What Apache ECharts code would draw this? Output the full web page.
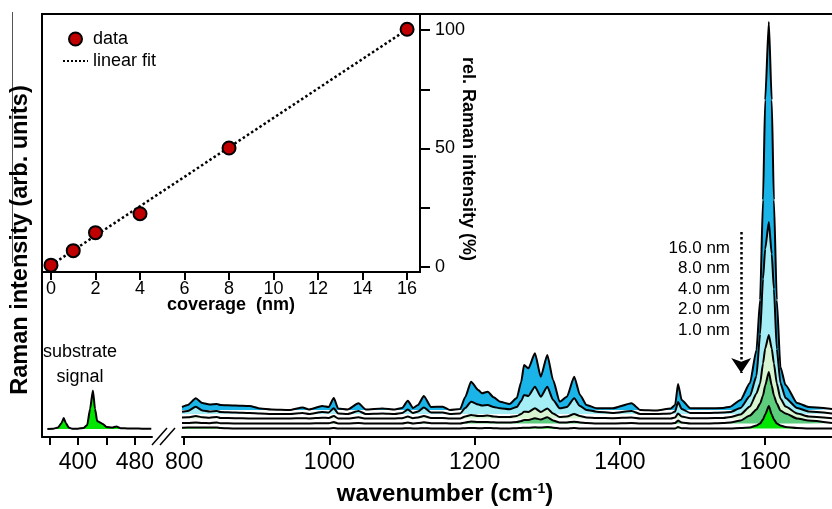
<!DOCTYPE html>
<html>
<head>
<meta charset="utf-8">
<script src="https://cdn.jsdelivr.net/npm/echarts@6/dist/echarts.min.js"></script>
<style>
  html, body { margin: 0; padding: 0; background: #fff; }
  #chart { width: 832px; height: 509px; }
</style>
</head>
<body>
<div id="chart"></div>
<script>
// inset: coverage vs. relative Raman intensity
const coverage = [0, 1, 2, 4, 8, 16];
const relIntensity = [0.8, 6.9, 14.5, 22.5, 50.2, 100.3];
const fitLine = [[0, 0.8], [16, 100.2]];
const insetTicks = [0, 2, 4, 6, 8, 10, 12, 14, 16];

// main spectra (intensity above each spectrum's own offset, arb. units)
const thicknessLabels = ['16.0 nm', '8.0 nm', '4.0 nm', '2.0 nm', '1.0 nm'];
const spectrumOffsets = [27, 23, 18.5, 13.5, 8.5];
const wavenumbers = [797, 805, 816, 825, 835, 845, 850, 870, 890, 905,
  920, 945, 963, 972, 990, 999, 1006, 1012, 1025, 1040,
  1050, 1073, 1090, 1100, 1108, 1115, 1122, 1130, 1140, 1156,
  1166, 1180, 1187, 1195, 1205, 1210, 1218, 1226, 1235, 1248,
  1258, 1264, 1268, 1274, 1283, 1291, 1300, 1308, 1317, 1327,
  1337, 1345, 1354, 1368, 1390, 1416, 1428, 1450, 1470, 1476,
  1480, 1485, 1497, 1520, 1542, 1552, 1566, 1579, 1588, 1593,
  1597, 1600, 1605, 1609, 1612, 1616, 1621, 1628, 1644, 1660, 1692];
const int16 = [3, 5, 11.7, 7, 5.5, 6, 5, 4.5, 4, 1.5,
  0.5, 0, 2.5, 0.5, 4, 3, 12, 1.5, 0.5, 6.7,
  0.5, 1.5, 0.5, 2, 9.3, 2, 5, 14, 3, 3.3,
  0, 1, 13, 28.3, 20, 16.7, 18.3, 12.7, 8.3, 6,
  12, 28, 45, 41.7, 56.7, 33.3, 55, 30, 8.3, 13.3,
  33.3, 15, 5, 1.7, 1.7, 6.7, 0, -0.5, 1.5, 5,
  26, 10, 1.7, 1.7, 2, 3.3, 10, 27, 60, 110,
  210, 310, 388, 310, 210, 110, 43, 25, 7, 3, 1];
const int8 = [2.3, 3, 7.3, 3.5, 2.5, 3, 2, 1.5, 1, 0.5,
  0, 0, 1, 0, 2, 1.5, 5.7, 0.5, 0, 3,
  0, 0.5, 0, 1, 4.5, 1, 2.5, 6.5, 1.5, 1.5,
  0, 0.5, 6, 12.3, 9.5, 8.5, 9, 7, 5.7, 4.7,
  7, 13, 19, 18, 27.3, 17.3, 27.3, 14, 5.7, 7,
  15.7, 8, 4, 2.3, 1, 3, 0, 0, 0.5, 2.5,
  12, 5, 1, 1, 1.5, 2, 6, 18, 38, 80,
  135, 165, 192, 160, 125, 65, 31, 16, 6, 2.5, 0.5];
const int4 = [1, 1.2, 2.5, 1.2, 0.8, 1.5, 0.5, 0.3, 0, 0,
  0, 0, 0.3, 0, 0.8, 0.5, 2.5, 0, 0, 1.2,
  0, 0, 0, 0.3, 2, 0.3, 1, 2.5, 0.5, 0.5,
  0, 0, 2, 3.5, 2.5, 2.5, 3, 2, 1.5, 1.5,
  2.5, 4.5, 6.8, 6.5, 10.2, 6.5, 10, 5, 1.5, 2,
  4.5, 2.5, 1, 0.5, 0.3, 1, 0, 0, 0, 1,
  5, 2, 0.3, 0.3, 0.5, 1.5, 4, 12, 25, 35,
  55, 70, 83.5, 70, 55, 35, 20, 12, 5, 2, 0.3];
const int2 = [0.5, 0.5, 1, 0.5, 0.3, 1, 0.3, 0, 0, 0,
  0, 0, 0, 0, 0.3, 0.3, 1.5, 0, 0, 0.5,
  0, 0, 0, 0, 1, 0, 0.5, 1.2, 0.3, 0.3,
  0, 0, 1, 2, 1.5, 1.5, 1.5, 1.2, 1, 1,
  1.5, 2.5, 3.5, 3.5, 5.2, 4, 6.2, 3, 1, 1,
  1.8, 1, 0.5, 0, 0, 0.5, 0, 0, 0, 0.5,
  3, 1, 0, 0, 0.5, 1, 3, 8, 14, 20,
  28, 38, 51.5, 38, 28, 20, 13, 10, 5, 3, 0.5];
const int1 = [0.8, 1, 1, 1, 1, 1, 0.5, 0, 0, 0,
  0, 0, 0, 0, 0, 0, 0.5, 0, 0, 0,
  0, 0, 0, 0, 0.3, 0, 0, 0.3, 0, 0,
  0, 0, 0.3, 0.5, 0.3, 0.3, 0.5, 0.3, 0, 0,
  0.3, 0.5, 0.8, 0.8, 1.2, 1, 1.5, 0.8, 0, 0,
  0.5, 0, 0, 0, 0, 0, 0, 0, 0, 0,
  1.5, 0.3, 0, 0, 0, 0, 0.5, 1, 3, 5,
  9, 14, 22.5, 14, 9, 5, 3, 1.5, 0.5, 0, 0];
const spectra = [int16, int8, int4, int2, int1];
const spectrumColors = ['#1ab4e8', '#a5eef5', '#d6f5d0', '#5dcc7d', '#00e600'];

// substrate signal (left segment of the broken axis)
const substrateWavenumbers = [357, 365, 372, 377, 380, 383, 387, 392, 400, 408,
  413, 417, 421, 424, 427, 431, 435, 440, 448, 454, 460, 470, 480, 490, 503];
const substrateIntensity = [0, 0.3, 1.5, 6, 11, 6, 1.5, 0.3, 0.3, 1,
  4, 20, 38.6, 20, 8, 6.6, 5, 2, 1.5, 2.6, 0.8, 0.5, 0.5, 0.3, 0.3];
const substrateOffset = 8;

const leftTicks = [360, 400, 440, 480];
const leftLabels = [400, 480];
const mainTicks = [800, 1000, 1200, 1400, 1600];

const FONT = 'Liberation Sans, Arial, sans-serif';
const blackLine = { color: '#000', width: 2 };
const plainNumber = (v) => String(v);

const chart = echarts.init(document.getElementById('chart'));

const spectrumSeries = spectra.map((vals, i) => {
  const s = {
    name: thicknessLabels[i],
    type: 'line',
    xAxisIndex: 1,
    yAxisIndex: 1,
    data: wavenumbers.map((w, j) => [w, spectrumOffsets[i] + vals[j]]),
    symbol: 'none',
    smooth: 0.2,
    smoothMonotone: 'x',
    lineStyle: { color: '#000', width: 2 },
    areaStyle: { color: spectrumColors[i], opacity: 1, origin: spectrumOffsets[i] },
    z: 2 + i
  };
  if (i === 0) {
    // dotted arrow next to the thickness list
    s.markLine = {
      silent: true,
      symbol: ['none', 'arrow'],
      symbolSize: [15, 15],
      label: { show: false },
      lineStyle: { color: '#000', type: 'dotted', width: 2.5 },
      data: [[{ coord: [1567, 205] }, { coord: [1567, 64] }]]
    };
  }
  return s;
});

const thicknessTexts = thicknessLabels.map((t, i) => ({
  type: 'text',
  x: 730,
  y: 248 + i * 20.5,
  style: { text: t, font: '17px ' + FONT, fill: '#000', textAlign: 'right', textVerticalAlign: 'middle' }
}));

const option = {
  animation: false,
  backgroundColor: '#fff',
  grid: [
    { left: 42, top: 14, width: 110, bottom: 72 },
    { left: 182, right: 0, top: 14, bottom: 72 },
    { left: 42, top: 14, width: 378, height: 258, show: true, backgroundColor: '#fff', borderColor: '#000', borderWidth: 2 }
  ],
  legend: {
    data: ['data', 'linear fit'],
    orient: 'vertical',
    left: 57,
    top: 25,
    itemWidth: 25,
    itemHeight: 13,
    itemGap: 4,
    textStyle: { fontSize: 18, color: '#000', fontFamily: FONT }
  },
  xAxis: [
    {
      gridIndex: 0, type: 'value', min: 349.5, max: 504,
      axisLine: { onZero: false, lineStyle: blackLine },
      axisTick: { customValues: leftTicks, length: 8, lineStyle: blackLine },
      axisLabel: { customValues: leftLabels, formatter: plainNumber, fontSize: 23, margin: 14, color: '#000', fontFamily: FONT },
      splitLine: { show: false }
    },
    {
      gridIndex: 1, type: 'value', min: 797, max: 1692,
      axisLine: { onZero: false, lineStyle: blackLine },
      axisTick: { customValues: mainTicks, length: 8, lineStyle: blackLine },
      axisLabel: { customValues: mainTicks, formatter: plainNumber, fontSize: 23, margin: 14, color: '#000', fontFamily: FONT },
      splitLine: { show: false }
    },
    {
      gridIndex: 1, type: 'value', position: 'top', min: 797, max: 1692,
      axisLine: { onZero: false, lineStyle: blackLine },
      axisTick: { show: false }, axisLabel: { show: false }, splitLine: { show: false }
    },
    {
      gridIndex: 2, type: 'value', min: -0.404, max: 16.58,
      axisLine: { onZero: false, lineStyle: blackLine },
      axisTick: { customValues: insetTicks, length: 8, lineStyle: blackLine },
      axisLabel: { customValues: insetTicks, formatter: plainNumber, fontSize: 18, margin: 8, color: '#000', fontFamily: FONT },
      splitLine: { show: false },
      name: 'coverage  (nm)',
      nameLocation: 'middle',
      nameGap: 24,
      nameMoveOverlap: false,
      nameTextStyle: { fontSize: 18, fontWeight: 'bold', color: '#000', fontFamily: FONT }
    }
  ],
  yAxis: [
    {
      gridIndex: 0, type: 'value', min: 0, max: 423,
      axisLine: { show: true, onZero: false, lineStyle: blackLine },
      axisTick: { show: false }, axisLabel: { show: false }, splitLine: { show: false }
    },
    {
      gridIndex: 1, type: 'value', min: 0, max: 423, show: false
    },
    {
      gridIndex: 2, type: 'value', position: 'right', min: -2.1, max: 106.75,
      axisLine: { show: true, onZero: false, lineStyle: blackLine },
      axisTick: { customValues: [0, 25, 50, 75, 100], length: 10, lineStyle: blackLine },
      axisLabel: { customValues: [0, 50, 100], formatter: plainNumber, fontSize: 18, margin: 15, color: '#000', fontFamily: FONT },
      splitLine: { show: false }
    }
  ],
  graphic: [
    {
      type: 'line', shape: { x1: 12.5, y1: 12, x2: 12.5, y2: 263 },
      style: { stroke: '#555', lineWidth: 1 }
    },
    {
      type: 'text', x: 21, y: 240, rotation: Math.PI / 2,
      style: { text: 'Raman intensity (arb. units)', font: 'bold 23.5px ' + FONT, fill: '#000', textAlign: 'center', textVerticalAlign: 'middle' }
    },
    {
      type: 'text', x: 445, y: 494,
      style: {
        text: '{a|wavenumber (cm}{s|-1}{a|)}',
        rich: {
          a: { font: 'bold 24px ' + FONT, fill: '#000' },
          s: { font: 'bold 14px ' + FONT, fill: '#000', verticalAlign: 'top' }
        },
        textAlign: 'center', textVerticalAlign: 'middle'
      }
    },
    {
      type: 'text', x: 468, y: 159, rotation: -Math.PI / 2,
      style: { text: 'rel. Raman intensity (%)', font: 'bold 18px ' + FONT, fill: '#000', textAlign: 'center', textVerticalAlign: 'middle' }
    },
    {
      type: 'text', x: 80, y: 352,
      style: { text: 'substrate', font: '18px ' + FONT, fill: '#000', textAlign: 'center', textVerticalAlign: 'middle' }
    },
    {
      type: 'text', x: 80, y: 377,
      style: { text: 'signal', font: '18px ' + FONT, fill: '#000', textAlign: 'center', textVerticalAlign: 'middle' }
    },
    {
      type: 'line', shape: { x1: 152, y1: 445, x2: 167, y2: 428 },
      style: { stroke: '#000', lineWidth: 1.5 }
    },
    {
      type: 'line', shape: { x1: 160, y1: 445, x2: 175, y2: 428 },
      style: { stroke: '#000', lineWidth: 1.5 }
    }
  ].concat(thicknessTexts),
  series: [
    {
      name: 'substrate',
      type: 'line',
      xAxisIndex: 0,
      yAxisIndex: 0,
      data: substrateWavenumbers.map((w, j) => [w, substrateOffset + substrateIntensity[j]]),
      symbol: 'none',
      smooth: 0.2,
      smoothMonotone: 'x',
      lineStyle: { color: '#000', width: 2 },
      areaStyle: { color: '#00e600', opacity: 1, origin: substrateOffset }
    }
  ].concat(spectrumSeries).concat([
    {
      name: 'linear fit',
      type: 'line',
      xAxisIndex: 3,
      yAxisIndex: 2,
      data: fitLine,
      symbol: 'none',
      itemStyle: { color: 'rgba(0,0,0,0)' },
      lineStyle: { color: '#000', width: 2.5, type: 'dotted' },
      z: 4
    },
    {
      name: 'data',
      type: 'scatter',
      xAxisIndex: 3,
      yAxisIndex: 2,
      data: coverage.map((c, i) => [c, relIntensity[i]]),
      symbolSize: 13,
      itemStyle: { color: '#c00000', borderColor: '#000', borderWidth: 2, opacity: 1 },
      z: 5
    }
  ])
};

chart.setOption(option);
</script>
</body>
</html>
